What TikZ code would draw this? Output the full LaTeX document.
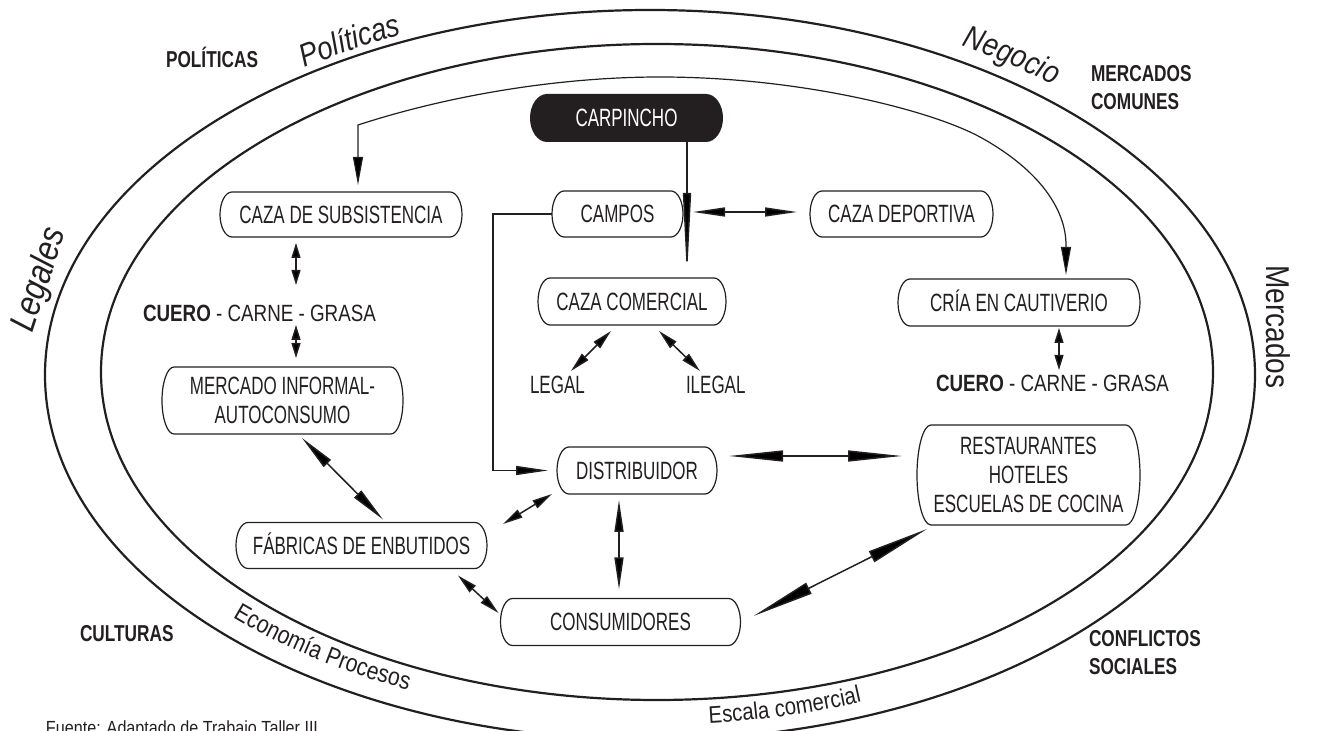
\documentclass[tikz,border=0pt]{standalone}
\usepackage{fontspec}
\setmainfont{Liberation Sans}
\newfontfamily\boxfont{Liberation Sans}[FakeStretch=0.68]
\newfontfamily\labfont{Liberation Sans}[FakeStretch=0.75]
\newfontfamily\cuerofont{Liberation Sans}[FakeStretch=0.8]
\newfontfamily\ringfont{Liberation Sans}[FakeStretch=0.85]
\usetikzlibrary{arrows.meta,calc,backgrounds,decorations.text}
\definecolor{ink}{HTML}{231F20}

% outline with elliptical ends around a node; #1 = end depth, #2 = path style, #3 = node
\newcommand\pill[3][6pt]{%
  \path[#2] let \p1=(#3.north west), \p2=(#3.south east), \p3=(#3.center) in
    ({\x1+#1},\y1) -- ({\x2-#1},\y1)
    .. controls ({\x2-0.4477*#1},\y1) and (\x2,{\y3+0.5523*(\y1-\y3)}) .. (\x2,\y3)
    .. controls (\x2,{\y3-0.5523*(\y1-\y3)}) and ({\x2-0.4477*#1},\y2) .. ({\x2-#1},\y2)
    -- ({\x1+#1},\y2)
    .. controls ({\x1+0.4477*#1},\y2) and (\x1,{\y3-0.5523*(\y1-\y3)}) .. (\x1,\y3)
    .. controls (\x1,{\y3+0.5523*(\y1-\y3)}) and ({\x1+0.4477*#1},\y1) .. cycle;}

% text set along an elliptical arc:
% #1 = font, #2 = x radius, #3 = y radius, #4 = start angle, #5 = end angle, #6 = text
\newcommand\arctext[6]{%
  \path[decorate,decoration={text along path,text align=center,text color=ink,
      text={|#1|#6}}]
    ([shift={(651,375)}]#4:#2 and #3) arc[start angle=#4,end angle=#5,x radius=#2,y radius=#3];}

\begin{document}
\begin{tikzpicture}[x=0.5pt,y=-0.5pt,
  ring/.style={draw=ink,line width=1.1pt},
  conn/.style={draw=ink,line width=0.75pt},
  thin/.style={draw=ink,line width=0.6pt},
  boxline/.style={draw=ink,line width=0.6pt},
  bx/.style={inner sep=0pt,outer sep=0pt,text=ink,font={\boxfont\fontsize{12.5}{14.4}\selectfont}},
  one/.style={text height=9pt,text depth=0pt},
  lab/.style={inner sep=0pt,outer sep=0pt,anchor=base west,text=ink,font={\labfont\bfseries\fontsize{11.5}{13}\selectfont}},
  cuero/.style={inner sep=0pt,outer sep=0pt,anchor=base west,text=ink,font={\cuerofont\fontsize{11.75}{13}\selectfont}},
  small/.style={inner sep=0pt,outer sep=0pt,anchor=base west,text=ink,font={\boxfont\fontsize{12.5}{14}\selectfont}},
  ringlab/.style={inner sep=0pt,outer sep=0pt,text=ink},
  tS/.tip={Triangle[length=7.5pt,width=4.5pt]},
  tF/.tip={Triangle[length=10pt,width=4.5pt]},
  tM/.tip={Triangle[length=14pt,width=5pt]},
  tD/.tip={Triangle[length=16pt,width=4.5pt]},
  tR/.tip={Triangle[length=18pt,width=5pt]},
  tL/.tip={Triangle[length=27pt,width=5.5pt]},
  tK/.tip={Triangle[length=31pt,width=6pt]},
  tC/.tip={Triangle[length=42pt,width=4pt]}]
\useasboundingbox (0,0) rectangle (1319,731);
\clip (0,0) rectangle (1319,731);

% the two rings
\draw[ring] (650,375) ellipse [x radius=302.5pt, y radius=182.5pt];
\draw[ring] (657,372) ellipse [x radius=278pt, y radius=164pt];

% boxes
\node[bx,one,minimum width=96.5pt,minimum height=24pt,text=white] (carp) at (626.5,118) {CARPINCHO};
\node[bx,one,minimum width=121pt,minimum height=22.5pt] (sub) at (341,214.5) {CAZA DE SUBSISTENCIA};
\node[bx,one,minimum width=65.5pt,minimum height=23pt] (campos) at (617.5,214) {CAMPOS};
\node[bx,one,minimum width=91.5pt,minimum height=23pt] (dep) at (901.5,214) {CAZA DEPORTIVA};
\node[bx,one,minimum width=94pt,minimum height=23.5pt] (com) at (632,301.5) {CAZA COMERCIAL};
\node[bx,one,minimum width=121pt,minimum height=23.5pt] (cria) at (1019,302.5) {CRÍA EN CAUTIVERIO};
\node[bx,align=center,minimum width=120.5pt,minimum height=33.5pt] (merc) at (282.5,400.5) {MERCADO INFORMAL-\\AUTOCONSUMO};
\node[bx,one,minimum width=80pt,minimum height=23.5pt] (dist) at (637,470.5) {DISTRIBUIDOR};
\node[bx,align=center,minimum width=111.5pt,minimum height=50pt] (rest) at (1028.5,475) {RESTAURANTES\\HOTELES\\ESCUELAS DE COCINA};
\node[bx,one,minimum width=125.5pt,minimum height=23pt] (fab) at (361.5,545.5) {FÁBRICAS DE ENBUTIDOS};
\node[bx,one,minimum width=120pt,minimum height=23.5pt] (cons) at (620.5,622) {CONSUMIDORES};

\begin{scope}[on background layer]
  \pill[8.5pt]{fill=ink}{carp}
  \pill{boxline}{sub}
  \pill{boxline}{campos}
  \pill{boxline}{dep}
  \pill{boxline}{com}
  \pill{boxline}{cria}
  \pill{boxline}{merc}
  \pill{boxline}{dist}
  \pill[7pt]{boxline}{rest}
  \pill{boxline}{fab}
  \pill{boxline}{cons}
\end{scope}

% plain text items
\node[cuero] (cuL) at (143,322) {{\bfseries CUERO} - CARNE - GRASA};
\node[cuero] (cuR) at (936,392) {{\bfseries CUERO} - CARNE - GRASA};
\node[small] (leg) at (530,394) {LEGAL};
\node[small] (ileg) at (686,394) {ILEGAL};

% labels outside the rings
\node[lab] (pol) at (166,68) {POLÍTICAS};
\node[lab] (mer1) at (1091,82) {MERCADOS};
\node[lab] (mer2) at (1091,110) {COMUNES};
\node[lab] (cul) at (80,642) {CULTURAS};
\node[lab] (con1) at (1089,647) {CONFLICTOS};
\node[lab] (con2) at (1089,675) {SOCIALES};

% ring names
\arctext{\ringfont\itshape\fontsize{16}{18}\selectfont}{307pt}{186pt}{132}{107}{Políticas}
\arctext{\ringfont\itshape\fontsize{16}{18}\selectfont}{311pt}{190pt}{66}{43}{Negocio}
\arctext{\ringfont\fontsize{12.5}{14}\selectfont}{293pt}{173pt}{214}{254}{Economía Procesos}
\arctext{\ringfont\fontsize{12}{14}\selectfont}{294pt}{175pt}{270}{297}{Escala comercial}
\node[ringlab,rotate=72,font={\ringfont\itshape\fontsize{18}{20}\selectfont}] (rLeg) at (40,280) {Legales};
\node[ringlab,rotate=-90,font={\ringfont\fontsize{16.5}{18}\selectfont}] (rMer) at (1278,327) {Mercados};

\node[ringlab,anchor=base west,font={\ringfont\fontsize{9.5}{11}\selectfont}] (src) at (46,735) {Fuente: Adaptado de Trabajo Taller III};

% connectors
\draw[thin,arrows={tM-tM}] ($(sub.north)+(17,-7)$) -- ($(sub.north)+(17,-67)$)
  .. controls (450,95) and (560,77) .. (660,77)
  .. controls (800,77) and (930,110) .. (980,137)
  .. controls (1040,170) and (1066,210) .. ($(cria.north)+(47,-34)$)
  -- ($(cria.north)+(47,-4)$);
\draw[conn,arrows={-tC}] ($(carp.south)+(60.5,0)$) -- ($(com.north)+(55,-1)$);
\draw[conn,arrows={tD-tD}] ($(campos.east)+(10,-2)$) -- ($(dep.west)+(-13,-2)$);
\draw[conn,arrows={-tD}] (campos.west) -- ++(-59,0) |- ($(dist.west)+(-9,0)$);
\draw[conn,arrows={tS-tS}] ($(sub.south)+(-45,6)$) -- ($(sub.south)+(-45,48)$);
\draw[conn,arrows={tS-tS}] ($(merc.north)+(13.5,-42)$) -- ($(merc.north)+(13.5,-9)$);
\draw[conn,arrows={tR-tR}] ($(merc.south)+(19.5,4)$) -- ($(fab.north)+(21.5,-3)$);
\draw[conn,arrows={tF-tF}] ($(fab.east)+(16,-21.5)$) -- ($(dist.south west)+(-5,0)$);
\draw[conn,arrows={tF-tF}] ($(fab.south east)+(-29,7)$) -- ($(cons.west)+(-2,-9)$);
\draw[conn,arrows={tD-tD}] ($(dist.south)+(-18,6)$) -- ($(cons.north)+(-1.5,-9)$);
\draw[conn,arrows={tL-tL}] ($(dist.east)+(12,-14.5)$) -- ($(rest.west)+(-15,-19)$);
\draw[conn,arrows={tK-tK}] ($(rest.south west)+(10,4)$) -- ($(cons.east)+(13,-6)$);
\draw[conn,arrows={tF-tF}] ($(com.south)+(-21,6)$) -- ($(com.south)+(-61,46)$);
\draw[conn,arrows={tF-tF}] ($(com.south)+(27,6)$) -- ($(com.south)+(68,46)$);
\draw[conn,arrows={tS-tS}] ($(cria.south)+(40,2)$) -- ($(cria.south)+(40,44)$);
\end{tikzpicture}
\end{document}
